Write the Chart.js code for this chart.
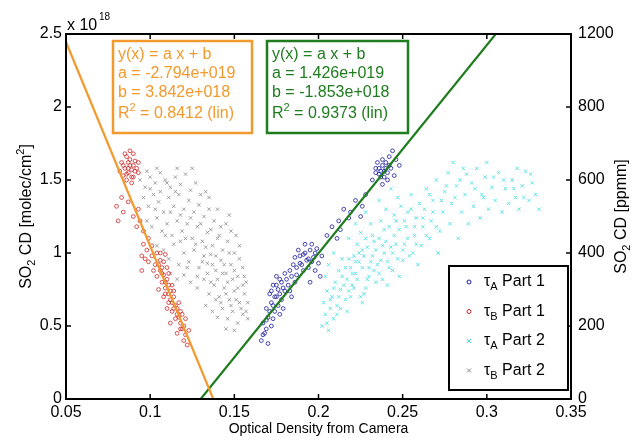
<!DOCTYPE html>
<html>
<head>
<meta charset="utf-8">
<script src="https://cdn.jsdelivr.net/npm/chart.js@4.4.1/dist/chart.umd.min.js"></script>
<style>
html, body { margin: 0; padding: 0; background: #fff; }
</style>
</head>
<body>
<canvas id="chart" width="635" height="438"></canvas>
<script>
// values, y in units of 1e18 molec/cm2
const xTicks = [0.05, 0.1, 0.15, 0.2, 0.25, 0.3, 0.35];
const yTicks = [0, 0.5, 1, 1.5, 2, 2.5];
const ppmmTicks = [0, 200, 400, 600, 800, 1000];
const ppmmLabels = ['0', '200', '400', '600', '800', '1200'];

const tauAPart1 = [
    [0.166,0.40],[0.168,0.45],[0.170,0.38],[0.167,0.52],[0.170,0.56],[0.172,0.50],[0.169,0.62],[0.172,0.66],
    [0.174,0.60],[0.171,0.72],[0.174,0.70],[0.176,0.64],[0.173,0.78],[0.176,0.75],[0.178,0.68],[0.175,0.84],
    [0.178,0.80],[0.180,0.74],[0.177,0.58],[0.180,0.86],[0.182,0.78],[0.169,0.48],[0.173,0.55],[0.179,0.62],
    [0.184,0.70],[0.183,0.88],[0.185,0.92],[0.187,0.85],[0.186,0.97],[0.189,0.93],[0.191,0.88],[0.188,1.02],
    [0.191,0.99],[0.193,0.95],[0.195,1.02],[0.194,0.90],[0.197,0.97],[0.198,0.88],[0.200,0.93],[0.196,1.06],
    [0.199,1.03],[0.202,0.98],[0.192,1.06],[0.201,0.84],[0.195,0.80],[0.186,0.80],[0.205,1.12],[0.208,1.18],
    [0.212,1.22],[0.215,1.30],[0.219,1.28],[0.222,1.36],[0.226,1.32],[0.228,1.40],[0.211,1.10],[0.225,1.25],
    [0.232,1.50],[0.234,1.55],[0.236,1.58],[0.237,1.52],[0.238,1.60],[0.239,1.56],[0.240,1.62],[0.241,1.50],
    [0.242,1.66],[0.243,1.58],[0.244,1.70],[0.246,1.64],[0.235,1.62],[0.238,1.47],[0.245,1.53],[0.248,1.60],
    [0.167,0.44],[0.169,0.54],[0.171,0.60],[0.172,0.74],[0.173,0.64],[0.175,0.70],[0.175,0.78],[0.177,0.72],
    [0.177,0.82],[0.179,0.76],[0.181,0.82],[0.183,0.74],[0.184,0.84],[0.187,0.90],[0.189,0.98],[0.190,0.92],
    [0.192,1.00],[0.194,0.96],[0.196,0.94],[0.198,1.00],[0.236,1.54],[0.237,1.56],[0.238,1.64],[0.239,1.52],
    [0.240,1.58],[0.241,1.55],[0.242,1.60],[0.234,1.58],[0.213,1.16],[0.218,1.24]
];

const tauBPart1 = [
    [0.083,1.62],[0.085,1.58],[0.086,1.66],[0.087,1.55],[0.088,1.60],[0.089,1.57],[0.090,1.52],[0.088,1.70],
    [0.091,1.63],[0.086,1.50],[0.084,1.53],[0.092,1.58],[0.089,1.48],[0.087,1.62],[0.090,1.68],[0.093,1.55],
    [0.080,1.32],[0.084,1.28],[0.087,1.35],[0.090,1.25],[0.092,1.18],[0.094,1.22],[0.093,1.30],[0.096,1.15],
    [0.096,1.06],[0.099,1.10],[0.098,1.02],[0.101,1.05],[0.097,0.96],[0.095,0.88],[0.101,0.98],[0.104,1.00],
    [0.103,0.92],[0.106,0.95],[0.106,0.88],[0.108,0.85],[0.107,0.80],[0.110,0.82],[0.109,0.76],[0.111,0.72],
    [0.113,0.78],[0.112,0.68],[0.114,0.70],[0.115,0.64],[0.113,0.60],[0.116,0.58],[0.110,0.62],[0.117,0.66],
    [0.115,0.55],[0.118,0.52],[0.119,0.48],[0.116,0.45],[0.121,0.44],[0.120,0.40],[0.122,0.37],[0.112,0.52],
    [0.108,0.70],[0.105,0.75],[0.114,0.74],[0.110,0.90],[0.108,0.94],[0.106,1.00],[0.109,0.99],[0.118,0.60],
    [0.121,0.55],[0.123,0.47],[0.104,0.84],[0.111,0.86],
    [0.084,1.60],[0.086,1.54],[0.088,1.64],[0.089,1.52],[0.090,1.60],[0.087,1.58],[0.085,1.68],[0.091,1.56],
    [0.082,1.56],[0.093,1.62],[0.081,1.22],[0.083,1.38],[0.095,0.98],[0.099,0.94],[0.102,0.88],[0.107,0.86],
    [0.109,0.80],[0.111,0.78],[0.112,0.74],[0.113,0.66],[0.114,0.62],[0.116,0.62],[0.117,0.56],[0.118,0.48],
    [0.119,0.58],[0.120,0.50],[0.111,0.66],[0.109,0.72],[0.107,0.90],[0.105,0.92]
];

const tauAPart2 = [
    [0.202,0.50],[0.204,0.58],[0.206,0.47],[0.203,0.66],[0.207,0.62],[0.209,0.55],[0.205,0.74],[0.208,0.70],
    [0.211,0.64],[0.210,0.80],[0.213,0.75],[0.212,0.88],[0.206,0.92],[0.209,1.00],[0.214,0.96],[0.204,0.84],
    [0.216,0.68],[0.218,0.74],[0.217,0.82],[0.220,0.78],[0.219,0.90],[0.222,0.86],[0.221,0.98],[0.224,0.94],
    [0.223,1.06],[0.226,1.02],[0.225,1.14],[0.228,1.10],[0.227,0.72],[0.229,0.82],[0.230,0.90],[0.232,0.98],
    [0.231,1.20],[0.233,1.08],[0.234,0.80],[0.218,1.10],[0.222,1.20],[0.228,1.28],[0.226,0.66],[0.236,0.86],
    [0.237,0.95],[0.238,1.05],[0.239,1.16],[0.240,1.30],[0.241,0.78],[0.242,0.90],[0.244,1.00],[0.245,1.12],
    [0.246,1.22],[0.247,1.38],[0.248,0.84],[0.250,0.95],[0.251,1.06],[0.252,1.18],[0.253,1.28],[0.255,1.40],
    [0.256,1.00],[0.257,1.12],[0.258,1.24],[0.259,0.92],[0.243,1.44],[0.236,1.36],[0.261,1.05],[0.262,1.18],
    [0.263,1.30],[0.264,1.44],[0.266,1.10],[0.267,1.22],[0.268,1.36],[0.270,1.50],[0.271,1.00],[0.272,1.15],
    [0.274,1.28],[0.275,1.42],[0.277,1.55],[0.278,1.20],[0.279,1.34],[0.280,1.62],[0.282,1.46],[0.283,1.10],
    [0.285,1.28],[0.286,1.58],[0.287,1.40],[0.289,1.20],[0.291,1.48],[0.292,1.32],[0.294,1.58],[0.296,1.24],
    [0.297,1.40],[0.299,1.52],[0.301,1.30],[0.303,1.45],[0.305,1.36],[0.307,1.55],[0.309,1.28],[0.311,1.44],
    [0.313,1.34],[0.315,1.50],[0.317,1.38],[0.319,1.30],[0.321,1.46],[0.323,1.56],[0.325,1.36],[0.327,1.48],
    [0.329,1.40],[0.331,1.30],[0.318,1.58],[0.300,1.62],
    [0.205,0.52],[0.207,0.68],[0.209,0.76],[0.211,0.58],[0.212,0.70],[0.213,0.62],[0.214,0.84],[0.215,0.78],
    [0.216,0.90],[0.217,0.60],[0.218,0.96],[0.219,0.70],[0.220,0.86],[0.221,0.76],[0.222,0.94],[0.223,0.82],
    [0.224,1.00],[0.225,0.70],[0.226,0.90],[0.227,0.98],[0.228,0.76],[0.229,1.04],[0.230,0.84],[0.231,0.94],
    [0.232,1.12],[0.233,0.88],[0.234,1.02],[0.235,0.92],[0.236,1.10],[0.237,1.22],[0.238,0.82],[0.239,1.00],
    [0.240,1.08],[0.241,0.94],[0.242,1.18],[0.243,1.04],[0.244,0.88],[0.245,1.26],[0.246,1.06],[0.247,0.96],
    [0.248,1.16],[0.249,1.32],[0.250,1.02],[0.251,1.22],[0.253,1.10],[0.254,0.98],[0.255,1.30],[0.257,1.18],
    [0.258,1.06],[0.260,1.34],[0.262,1.24],[0.264,1.12],[0.266,1.40],[0.268,1.28],[0.270,1.18],[0.273,1.36],
    [0.276,1.46],[0.281,1.38],[0.284,1.50],[0.288,1.54],[0.293,1.44],[0.298,1.38],[0.304,1.52],[0.310,1.50],
    [0.316,1.44],[0.322,1.38],[0.326,1.54]
];

const tauBPart2 = [
    [0.094,1.50],[0.097,1.45],[0.100,1.52],[0.103,1.48],[0.106,1.55],[0.109,1.50],[0.112,1.45],[0.115,1.52],
    [0.118,1.47],[0.121,1.54],[0.124,1.43],[0.127,1.48],[0.130,1.40],[0.096,1.38],[0.099,1.32],[0.102,1.40],
    [0.105,1.35],[0.108,1.28],[0.111,1.38],[0.114,1.32],[0.117,1.40],[0.120,1.30],[0.123,1.36],[0.126,1.28],
    [0.129,1.33],[0.132,1.25],[0.135,1.30],[0.138,1.22],[0.142,1.18],[0.145,1.20],[0.148,1.15],[0.098,1.22],
    [0.101,1.18],[0.104,1.24],[0.107,1.15],[0.110,1.20],[0.113,1.12],[0.116,1.22],[0.119,1.15],[0.122,1.20],
    [0.125,1.10],[0.128,1.18],[0.131,1.08],[0.134,1.14],[0.137,1.05],[0.140,1.10],[0.143,1.02],[0.146,1.08],
    [0.150,1.00],[0.104,1.05],[0.108,1.02],[0.111,0.96],[0.114,1.06],[0.117,0.92],[0.120,1.00],[0.123,0.94],
    [0.126,1.02],[0.129,0.90],[0.132,0.98],[0.134,0.93],[0.136,0.99],[0.139,0.88],[0.142,0.95],[0.145,0.86],
    [0.148,0.92],[0.152,0.84],[0.155,0.90],[0.112,0.86],[0.116,0.82],[0.120,0.85],[0.124,0.80],[0.128,0.76],
    [0.132,0.82],[0.135,0.72],[0.138,0.78],[0.141,0.70],[0.144,0.76],[0.147,0.68],[0.150,0.74],[0.153,0.66],
    [0.156,0.72],[0.133,0.64],[0.137,0.60],[0.140,0.56],[0.143,0.62],[0.146,0.55],[0.149,0.60],[0.152,0.52],
    [0.155,0.58],[0.145,0.48],[0.150,0.47],[0.158,0.55],[0.157,0.80],[0.153,1.05],[0.125,1.58],[0.133,1.42],
    [0.100,1.44],[0.103,1.30],[0.106,1.42],[0.109,1.12],[0.112,1.28],[0.115,1.42],[0.118,1.26],[0.121,1.10],
    [0.124,1.24],[0.127,1.06],[0.130,1.20],[0.133,1.04],[0.136,1.16],[0.139,0.98],[0.141,1.12],[0.144,0.92],
    [0.147,1.00],[0.150,0.88],[0.153,0.96],[0.156,0.84],[0.131,0.94],[0.134,0.86],[0.137,0.92],[0.140,0.82],
    [0.143,0.86],[0.146,0.80],[0.149,0.82],[0.152,0.76],[0.155,0.78],[0.158,0.66],[0.142,0.66],[0.145,0.72],
    [0.148,0.64],[0.151,0.68],[0.154,0.62],[0.157,0.60],[0.139,0.68],[0.136,0.80],[0.128,0.84],[0.122,0.90],
    [0.118,1.08],[0.110,1.48],[0.116,1.58],[0.104,1.58],[0.098,1.56],[0.135,1.38],[0.140,1.30],[0.147,1.26],
    [0.151,1.12]
];

// linear fits, end points on the plot box
const fitB1 = [[0.05, 2.445], [0.1375, 0]];
const fitA1 = [[0.13, 0], [0.3053, 2.5]];

const fitB1Text = ['y(x) = a x + b', 'a = -2.794e+019', 'b = 3.842e+018', '0.8412 (lin)'];
const fitA1Text = ['y(x) = a x + b', 'a = 1.426e+019', 'b = -1.853e+018', '0.9373 (lin)'];

const legendNames = [['A', '1'], ['B', '1'], ['A', '2'], ['B', '2']];

const FONT = "'Liberation Sans', Arial, sans-serif";
const blue = '#1c1ca0';
const red = '#cc2a2a';
const cyan = '#3fe0e0';
const grey = '#8a8a8a';
const orange = '#f29a2e';
const green = '#1f7d1f';

function pts(arr) {
    return arr.map(p => ({x: p[0], y: p[1]}));
}

function richWidth(ctx, parts, size) {
    let w = 0;
    parts.forEach(p => {
        ctx.font = (p.sub || p.sup ? Math.round(size * 0.68) : size) + 'px ' + FONT;
        w += ctx.measureText(p.t).width;
    });
    return w;
}

function drawRich(ctx, parts, x, y, size, color, align) {
    let w = richWidth(ctx, parts, size);
    let cx = align === 'center' ? x - w / 2 : (align === 'right' ? x - w : x);
    ctx.fillStyle = color;
    ctx.textBaseline = 'middle';
    ctx.textAlign = 'left';
    parts.forEach(p => {
        let s = p.sub || p.sup ? Math.round(size * 0.68) : size;
        ctx.font = s + 'px ' + FONT;
        let dy = p.sub ? size * 0.32 : (p.sup ? -size * 0.38 : 0);
        ctx.fillText(p.t, cx, y + dy);
        cx += ctx.measureText(p.t).width;
    });
}

function marker(ctx, style, x, y, color) {
    ctx.strokeStyle = color;
    ctx.lineWidth = 1;
    ctx.beginPath();
    if (style === 'circle') {
        ctx.arc(x, y, 2, 0, Math.PI * 2);
    } else {
        ctx.moveTo(x - 2, y - 2); ctx.lineTo(x + 2, y + 2);
        ctx.moveTo(x + 2, y - 2); ctx.lineTo(x - 2, y + 2);
    }
    ctx.stroke();
}

const decorations = {
    id: 'decorations',
    afterDraw(chart) {
        const ctx = chart.ctx;
        const a = chart.chartArea;
        const sx = chart.scales.x, sy = chart.scales.y, sy2 = chart.scales.y2;
        ctx.save();

        // box
        ctx.strokeStyle = '#000';
        ctx.lineWidth = 2;
        ctx.strokeRect(a.left, a.top, a.right - a.left, a.bottom - a.top);

        // inward ticks
        ctx.lineWidth = 1.5;
        ctx.beginPath();
        xTicks.forEach(v => {
            let px = sx.getPixelForValue(v);
            ctx.moveTo(px, a.bottom); ctx.lineTo(px, a.bottom - 5);
            ctx.moveTo(px, a.top); ctx.lineTo(px, a.top + 5);
        });
        yTicks.forEach(v => {
            let py = sy.getPixelForValue(v);
            ctx.moveTo(a.left, py); ctx.lineTo(a.left + 5, py);
        });
        ppmmTicks.forEach(v => {
            let py = sy2.getPixelForValue(v);
            ctx.moveTo(a.right, py); ctx.lineTo(a.right - 5, py);
        });
        ctx.stroke();

        // exponent
        drawRich(ctx, [{t: 'x 10'}], 67, 26, 16, '#000', 'left');
        drawRich(ctx, [{t: '18', sup: true}], 99, 23, 15, '#000', 'left');

        // axis titles
        drawRich(ctx, [{t: 'Optical Density from Camera'}], (a.left + a.right) / 2, 429, 14, '#000', 'center');
        ctx.save();
        ctx.translate(27, (a.top + a.bottom) / 2);
        ctx.rotate(-Math.PI / 2);
        drawRich(ctx, [{t: 'SO'}, {t: '2', sub: true}, {t: ' CD [molec/cm'}, {t: '2', sup: true}, {t: ']'}], 0, 0, 16, '#000', 'center');
        ctx.restore();
        ctx.save();
        ctx.translate(622, (a.top + a.bottom) / 2);
        ctx.rotate(-Math.PI / 2);
        drawRich(ctx, [{t: 'SO'}, {t: '2', sub: true}, {t: ' CD [ppmm]'}], 0, 0, 16, '#000', 'center');
        ctx.restore();

        // fit boxes
        [[fitB1Text, orange, 113, 252], [fitA1Text, green, 267, 408]].forEach(b => {
            ctx.fillStyle = '#fff';
            ctx.fillRect(b[2], 41, b[3] - b[2], 92);
            ctx.strokeStyle = b[1];
            ctx.lineWidth = 2.5;
            ctx.strokeRect(b[2], 41, b[3] - b[2], 92);
            let tx = b[2] + 5;
            drawRich(ctx, [{t: b[0][0]}], tx, 55, 16, b[1], 'left');
            drawRich(ctx, [{t: b[0][1]}], tx, 74, 16, b[1], 'left');
            drawRich(ctx, [{t: b[0][2]}], tx, 93, 16, b[1], 'left');
            drawRich(ctx, [{t: 'R'}, {t: '2', sup: true}, {t: ' = ' + b[0][3]}], tx, 114, 16, b[1], 'left');
        });

        // legend
        ctx.fillStyle = '#fff';
        ctx.fillRect(449, 266, 119, 124);
        ctx.strokeStyle = '#000';
        ctx.lineWidth = 2;
        ctx.strokeRect(449, 266, 119, 124);
        const legColors = [blue, red, cyan, grey];
        const legStyles = ['circle', 'circle', 'cross', 'cross'];
        legendNames.forEach((n, i) => {
            let yy = 282 + i * 29.5;
            marker(ctx, legStyles[i], 469, yy, legColors[i]);
            drawRich(ctx, [{t: 'τ'}, {t: n[0], sub: true}, {t: ' Part ' + n[1]}], 484, yy, 16, '#000', 'left');
        });
        ctx.restore();
    }
};

function scatterSet(label, data, color, style, radius) {
    return {
        type: 'scatter',
        label: label,
        data: pts(data),
        yAxisID: 'y',
        pointStyle: style,
        pointRadius: radius,
        pointBorderWidth: 0.8,
        borderColor: color,
        backgroundColor: 'rgba(0,0,0,0)',
        order: 2
    };
}

function lineSet(label, data, color) {
    return {
        type: 'line',
        label: label,
        data: pts(data),
        yAxisID: 'y',
        borderColor: color,
        borderWidth: 2.2,
        pointRadius: 0,
        fill: false,
        order: 0
    };
}

Chart.defaults.font.family = FONT;
Chart.defaults.font.size = 16;
Chart.defaults.color = '#000';

new Chart('chart', {
    type: 'scatter',
    data: {
        datasets: [
            lineSet('fit B1', fitB1, orange),
            lineSet('fit A1', fitA1, green),
            scatterSet('τA Part 1', tauAPart1, blue, 'circle', 1.9),
            scatterSet('τB Part 1', tauBPart1, red, 'circle', 1.9),
            scatterSet('τA Part 2', tauAPart2, cyan, 'crossRot', 2.4),
            scatterSet('τB Part 2', tauBPart2, grey, 'crossRot', 2.4)
        ]
    },
    options: {
        responsive: false,
        animation: false,
        layout: { padding: { top: 34, left: 0, right: 0, bottom: 0 } },
        plugins: { legend: { display: false }, tooltip: { enabled: false } },
        scales: {
            x: {
                type: 'linear',
                min: 0.05,
                max: 0.35,
                afterBuildTicks: s => { s.ticks = xTicks.map(v => ({value: v})); },
                afterFit: s => { s.height = 39; },
                grid: { display: false, drawTicks: false },
                border: { display: false },
                ticks: { padding: 4, maxRotation: 0, callback: v => String(Number(v.toFixed(2))) }
            },
            y: {
                type: 'linear',
                position: 'left',
                min: 0,
                max: 2.5,
                afterBuildTicks: s => { s.ticks = yTicks.map(v => ({value: v})); },
                afterFit: s => { s.width = 66; },
                grid: { display: false, drawTicks: false },
                border: { display: false },
                ticks: { padding: 4, callback: v => String(v) }
            },
            y2: {
                type: 'linear',
                position: 'right',
                min: 0,
                max: 1000,
                afterBuildTicks: s => { s.ticks = ppmmTicks.map(v => ({value: v})); },
                afterFit: s => { s.width = 64; },
                grid: { display: false, drawTicks: false },
                border: { display: false },
                ticks: { padding: 7, callback: v => ppmmLabels[ppmmTicks.indexOf(v)] }
            }
        }
    },
    plugins: [decorations]
});
</script>
</body>
</html>
